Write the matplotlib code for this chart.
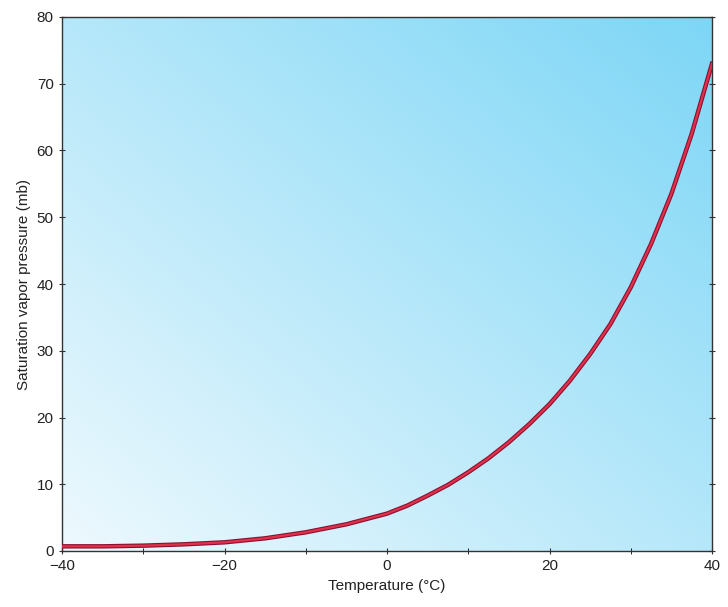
import numpy as np
import matplotlib
matplotlib.use("Agg")
import matplotlib.pyplot as plt
from matplotlib.ticker import MultipleLocator

plt.rcParams['font.family'] = ['Liberation Sans', 'DejaVu Sans']

temps = [-40, -35, -30, -25, -20, -15, -10, -5, 0, 2.5, 5, 7.5, 10, 12.5, 15, 17.5, 20, 22.5, 25, 27.5, 30, 32.5, 35, 37.5, 40]
pressures = [0.7, 0.7, 0.8, 1.0, 1.3, 1.9, 2.8, 4.0, 5.6, 6.8, 8.3, 9.9, 11.8, 13.9, 16.3, 19.0, 22.0, 25.5, 29.5, 34.0, 39.5, 46.0, 53.5, 62.5, 73.0]
xticks_major = [-40, -20, 0, 20, 40]
xtick_labels = ["\u221240", "\u221220", "0", "20", "40"]
yticks = [0, 10, 20, 30, 40, 50, 60, 70, 80]

fig = plt.figure(figsize=(7.28, 6.07), dpi=100)
ax = fig.add_axes([62/728, 56/607, 650/728, 534/607])
ax.set_xlim(-40, 40)
ax.set_ylim(0, 80)

n = 200
xx, yy = np.meshgrid(np.linspace(0, 1, n), np.linspace(0, 1, n))
t = np.clip((xx * 0.55 + yy * 0.55), 0, 1.1) / 1.1
c0 = np.array([238, 249, 254]) / 255
c1 = np.array([125, 214, 246]) / 255
img = c0 + (c1 - c0) * t[..., None]
ax.imshow(img, extent=[-40, 40, 0, 80], origin="lower", aspect="auto", zorder=0)

ax.plot(temps, pressures, color="#8a1030", lw=3.2, zorder=3)
ax.plot(temps, pressures, color="#e0304a", lw=1.6, zorder=4)

ax.set_xticks(xticks_major)
ax.set_xticklabels(xtick_labels)
ax.xaxis.set_minor_locator(MultipleLocator(10))
ax.set_yticks(yticks)
ax.tick_params(axis="both", labelsize=11, color="#333333", labelcolor="#222222", length=5)
ax.tick_params(axis="y", right=True, direction="inout")
ax.tick_params(axis="x", which="both", direction="inout", length=5)
for s in ax.spines.values():
    s.set_color("#333333")
    s.set_linewidth(1)
ax.set_xlabel("Temperature (\u00b0C)", fontsize=11, color="#222222")
ax.set_ylabel("Saturation vapor pressure (mb)", fontsize=11, color="#222222", labelpad=4)

fig.savefig("out.png", dpi=100)
